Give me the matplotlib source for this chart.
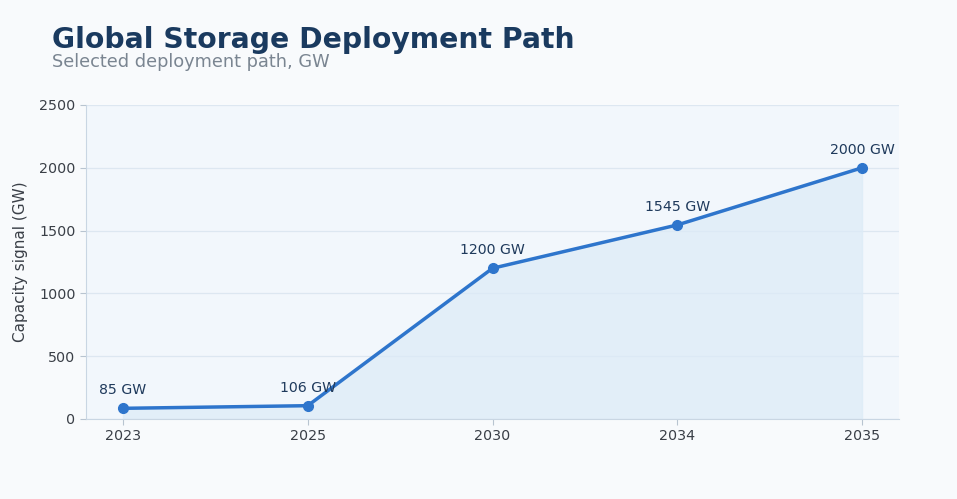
import matplotlib
matplotlib.use("Agg")
import matplotlib.pyplot as plt

plt.rcParams["font.family"] = ["DejaVu Sans"]

years = ["2023", "2025", "2030", "2034", "2035"]
capacity = [85, 106, 1200, 1545, 2000]
labels = ["85 GW", "106 GW", "1200 GW", "1545 GW", "2000 GW"]

fig = plt.figure(figsize=(9.57, 4.99), dpi=100)
fig.patch.set_facecolor("#f8fafc")
ax = fig.add_axes([86 / 957, 80 / 499, 813 / 957, 314 / 499])
ax.set_facecolor("#f2f7fc")

x = list(range(len(years)))
ax.fill_between(x, capacity, 0, color="#dcebf7", alpha=0.7, zorder=1)
ax.plot(x, capacity, color="#2e75cc", lw=2.5, marker="o", ms=7, zorder=3)

for xi, v, lab in zip(x, capacity, labels):
    ax.annotate(lab, (xi, v), xytext=(0, 8), textcoords="offset points",
                ha="center", va="bottom", fontsize=10.2, color="#1f3a5c")

ax.set_xlim(-0.2, 4.2)
ax.set_ylim(0, 2500)
ax.set_xticks(x)
ax.set_xticklabels(years)
ax.set_yticks([0, 500, 1000, 1500, 2000, 2500])
ax.grid(axis="y", color="#dde7f1", lw=0.9)
ax.set_axisbelow(True)
ax.tick_params(labelsize=10.3, colors="#3a3f47", length=4, color="#b8c4d0")
ax.set_ylabel("Capacity signal (GW)", fontsize=11, color="#3a3f47", labelpad=8)

for s in ["top", "right"]:
    ax.spines[s].set_visible(False)
for s in ["left", "bottom"]:
    ax.spines[s].set_color("#c9d6e3")

fig.text(52 / 957, 1 - 48 / 499, "Global Storage Deployment Path", fontsize=20.3,
         fontweight="bold", color="#1a3a5f", ha="left", va="baseline")
fig.text(52 / 957, 1 - 67 / 499, "Selected deployment path, GW", fontsize=12.75,
         color="#7a8591", ha="left", va="baseline")

fig.savefig("out.png", dpi=100, facecolor=fig.get_facecolor())
